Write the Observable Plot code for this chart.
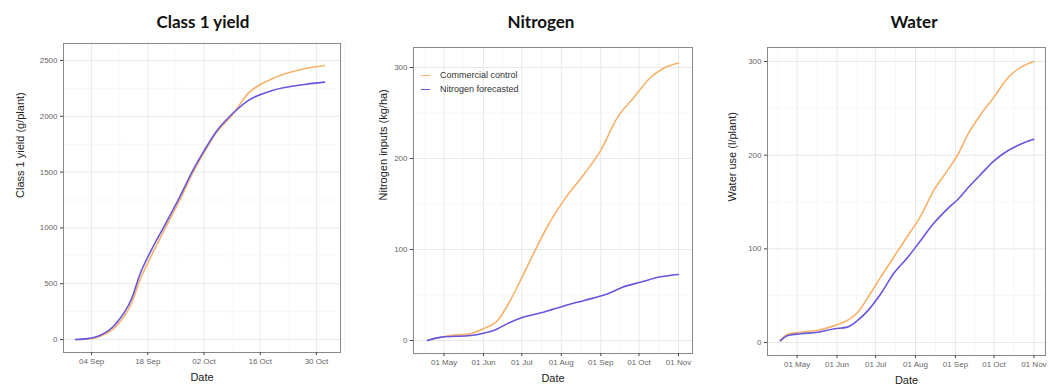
<!DOCTYPE html>
<html>
<head>
<meta charset="utf-8">
<script src="https://cdn.jsdelivr.net/npm/d3@7"></script>
<script src="https://cdn.jsdelivr.net/npm/@observablehq/plot@0.6"></script>
<style>
  html, body { margin: 0; padding: 0; background: #fff; }
  #root { position: relative; width: 1049px; height: 386px; overflow: hidden; font-family: "Liberation Sans", Arial, sans-serif; }
  .title { position: absolute; top: 11px; font-family: Lato, "Open Sans", sans-serif; font-weight: bold; font-size: 17px; color: #111; transform: translateX(-50%); white-space: nowrap; }
  .panel { position: absolute; top: 40px; }
  .legend { position: absolute; font-size: 9px; color: #333; line-height: 14px; }
  .legend div { display: flex; align-items: center; }
  .legend span.key { display: inline-block; width: 9px; height: 0; border-top: 1.5px solid; margin-right: 10px; }
</style>
</head>
<body>
<div id="root"></div>
<script>
// ---------- Data ----------
const seriesNames = ["Commercial control", "Nitrogen forecasted"];
const seriesColors = ["#F6B26B", "#6656E0"];

// Class 1 yield (g/plant)
const yieldControlDates = ["2020-08-31","2020-09-03","2020-09-06","2020-09-10","2020-09-14","2020-09-16","2020-09-19","2020-09-22","2020-09-26","2020-09-29","2020-10-02","2020-10-05","2020-10-09","2020-10-13","2020-10-19","2020-10-27","2020-11-01"];
const yieldControl      = [0, 5, 28, 115, 330, 530, 760, 975, 1250, 1480, 1675, 1850, 2010, 2205, 2336, 2425, 2455];
const yieldForecastDates = ["2020-08-31","2020-09-03","2020-09-06","2020-09-10","2020-09-14","2020-09-16","2020-09-19","2020-09-22","2020-09-26","2020-09-29","2020-10-02","2020-10-05","2020-10-09","2020-10-13","2020-10-19","2020-10-27","2020-11-01"];
const yieldForecast      = [0, 8, 36, 140, 370, 580, 810, 1010, 1280, 1500, 1690, 1860, 2020, 2141, 2231, 2285, 2306];
const yieldTicksX = ["2020-09-04","2020-09-18","2020-10-02","2020-10-16","2020-10-30"];
const yieldTicksY = [0, 500, 1000, 1500, 2000, 2500];

// Nitrogen inputs (kg/ha)
const nControlDates = ["2020-04-18","2020-05-06","2020-05-20","2020-06-01","2020-06-12","2020-06-22","2020-06-30","2020-07-10","2020-07-21","2020-08-03","2020-08-19","2020-09-01","2020-09-14","2020-09-27","2020-10-10","2020-10-20","2020-11-01"];
const nControl      = [0, 5.5, 7, 13, 22, 44, 66, 95, 125, 154, 183, 209, 245, 267, 289, 299, 305];
const nForecastDates = ["2020-04-18","2020-04-29","2020-05-22","2020-06-01","2020-06-09","2020-06-22","2020-07-03","2020-07-18","2020-08-03","2020-08-19","2020-09-06","2020-09-19","2020-10-02","2020-10-18","2020-11-01"];
const nForecast      = [0, 3.7, 5.5, 8, 11, 20, 26, 31, 38, 44, 51, 59, 64, 70, 72.5];

// Water use (l/plant)
const wDates = ["2020-04-18","2020-04-24","2020-05-04","2020-05-17","2020-05-30","2020-06-09","2020-06-17","2020-06-25","2020-07-05","2020-07-15","2020-07-26","2020-08-05","2020-08-15","2020-08-26","2020-09-03","2020-09-11","2020-09-21","2020-10-01","2020-10-12","2020-10-22","2020-11-01"];
const wControl  = [2, 9, 11, 13, 18, 23.5, 32, 48, 70, 91, 114, 135, 162, 184, 201, 223, 244, 262, 283, 294, 300];
const wForecast = [2, 7.5, 9.3, 11, 14.6, 16.4, 23.5, 34, 52, 73.6, 91, 109, 127, 143, 153, 165.5, 180, 194, 205, 212, 217];

const monthTicksX = ["2020-05-01","2020-06-01","2020-07-01","2020-08-01","2020-09-01","2020-10-01","2020-11-01"];
const nTicksY = [0, 100, 200, 300];
const wTicksY = [0, 100, 200, 300];

// ---------- Helpers ----------
const P = d3.utcParse("%Y-%m-%d");
function rows(dates, values, series) {
  return dates.map((d, i) => ({date: P(d), value: values[i], series}));
}
function mids(arr) {
  const out = [];
  for (let i = 0; i < arr.length - 1; i++) out.push((arr[i] + arr[i + 1]) / 2);
  return out;
}
function midDates(arr) {
  const out = [];
  for (let i = 0; i < arr.length - 1; i++) out.push(new Date((+arr[i] + +arr[i + 1]) / 2));
  return out;
}

function panel({left, width, margins, xDomain, yDomain, xTicks, yTicks, xMinorExtra, data, yLabel, yLabelDx, tickFormat}) {
  const xt = xTicks.map(P);
  const xMinor = midDates(xt).concat(xMinorExtra.map(P));
  const yMinor = mids(yTicks);
  const [mt, mr, mb, ml] = margins;
  const plot = Plot.plot({
    width, height: 346,
    marginTop: mt, marginRight: mr, marginBottom: mb, marginLeft: ml,
    style: {fontFamily: '"Liberation Sans", Arial, sans-serif', background: "transparent"},
    x: {type: "utc", domain: xDomain.map(P)},
    y: {domain: yDomain},
    color: {domain: seriesNames, range: seriesColors},
    marks: [
      Plot.gridX(xMinor, {stroke: "#f2f2f2", strokeOpacity: 1, strokeWidth: 0.6}),
      Plot.gridY(yMinor, {stroke: "#f2f2f2", strokeOpacity: 1, strokeWidth: 0.6}),
      Plot.gridX(xt, {stroke: "#e8e8e8", strokeOpacity: 1, strokeWidth: 1}),
      Plot.gridY(yTicks, {stroke: "#e8e8e8", strokeOpacity: 1, strokeWidth: 1}),
      Plot.line(data, {x: "date", y: "value", stroke: "series", z: "series", strokeWidth: 1.6, curve: "monotone-x"}),
      Plot.frame({stroke: "#888", strokeWidth: 1}),
      Plot.axisX(xt, {tickSize: 3, tickPadding: 3, fontSize: 8, color: "#666", stroke: "#444", tickFormat, label: null}),
      Plot.axisY(yTicks, {tickSize: 3, tickPadding: 3, fontSize: 8, color: "#666", stroke: "#444", tickFormat: d3.format("d"), label: null}),
      Plot.text(["Date"], {frameAnchor: "bottom", dy: 28, fontSize: 11, fill: "#222"}),
      Plot.text([yLabel], {frameAnchor: "left", dx: yLabelDx, rotate: -90, fontSize: 11, fill: "#222"})
    ]
  });
  plot.classList.add("panel");
  plot.style.left = left + "px";
  return plot;
}

const root = document.getElementById("root");
function addTitle(text, cx) {
  const t = document.createElement("div");
  t.className = "title";
  t.textContent = text;
  t.style.left = cx + "px";
  root.appendChild(t);
}

// Panel 1: Class 1 yield
root.appendChild(panel({
  left: 0, width: 350, margins: [3, 10, 34, 63],
  xDomain: ["2020-08-28", "2020-11-05"],
  yDomain: [-116, 2652],
  xTicks: yieldTicksX, yTicks: yieldTicksY,
  xMinorExtra: ["2020-08-28", "2020-11-06"],
  data: rows(yieldControlDates, yieldControl, seriesNames[0]).concat(rows(yieldForecastDates, yieldForecast, seriesNames[1])),
  yLabel: "Class 1 yield (g/plant)", yLabelDx: -43,
  tickFormat: d3.utcFormat("%d %b")
}));
addTitle("Class 1 yield", 203);

// Panel 2: Nitrogen
root.appendChild(panel({
  left: 350, width: 350, margins: [7, 8, 33, 63],
  xDomain: ["2020-04-07", "2020-11-12"],
  yDomain: [-14.3, 322],
  xTicks: monthTicksX, yTicks: nTicksY,
  xMinorExtra: ["2020-04-16"],
  data: rows(nControlDates, nControl, seriesNames[0]).concat(rows(nForecastDates, nForecast, seriesNames[1])),
  yLabel: "Nitrogen inputs (kg/ha)", yLabelDx: -30,
  tickFormat: d3.utcFormat("%d %b")
}));
addTitle("Nitrogen", 541);

// Panel 3: Water
root.appendChild(panel({
  left: 700, width: 349, margins: [7, 4, 31, 67],
  xDomain: ["2020-04-08", "2020-11-10"],
  yDomain: [-13.9, 315],
  xTicks: monthTicksX, yTicks: wTicksY,
  xMinorExtra: ["2020-04-16"],
  data: rows(wDates, wControl, seriesNames[0]).concat(rows(wDates, wForecast, seriesNames[1])),
  yLabel: "Water use (l/plant)", yLabelDx: -35,
  tickFormat: d3.utcFormat("%d %b")
}));
addTitle("Water", 914);

// Legend (inside Nitrogen panel)
const lg = document.createElement("div");
lg.className = "legend";
lg.style.left = "421px";
lg.style.top = "68px";
seriesNames.forEach((n, i) => {
  const row = document.createElement("div");
  const k = document.createElement("span");
  k.className = "key";
  k.style.borderColor = seriesColors[i];
  row.appendChild(k);
  row.appendChild(document.createTextNode(n));
  lg.appendChild(row);
});
root.appendChild(lg);
</script>
</body>
</html>
